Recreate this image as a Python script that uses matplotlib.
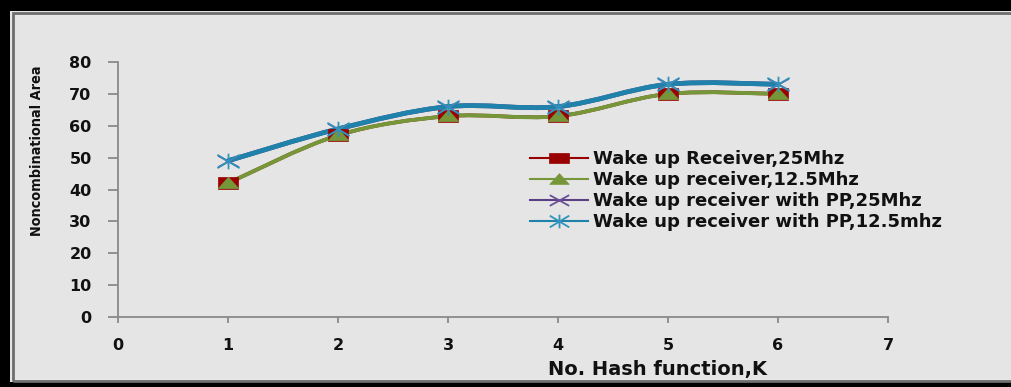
import matplotlib
matplotlib.use("Agg")
import matplotlib.pyplot as plt
from matplotlib import font_manager
from matplotlib.path import Path
from matplotlib.patches import PathPatch, Rectangle
from matplotlib.lines import Line2D

# Number of hash functions
k_values = [1, 2, 3, 4, 5, 6]

# Noncombinational area for each configuration
wur_25 = [42, 57, 63, 63, 70, 70]
wur_12_5 = [42, 57, 63, 63, 70, 70]
wur_pp_25 = [49, 59, 66, 66, 73, 73]
wur_pp_12_5 = [49, 59, 66, 66, 73, 73]

labels = [
    "Wake up Receiver,25Mhz",
    "Wake up receiver,12.5Mhz",
    "Wake up receiver with PP,25Mhz",
    "Wake up receiver with PP,12.5mhz",
]

x_ticks = [0, 1, 2, 3, 4, 5, 6, 7]
y_ticks = [0, 10, 20, 30, 40, 50, 60, 70, 80]

BG = "#e5e5e5"
AXIS = "#8a8a8a"
TEXT = "#111111"

# wide, flat marker shapes
SQUARE = Path([(-1, -0.55), (1, -0.55), (1, 0.55), (-1, 0.55), (-1, -0.55)],
              [Path.MOVETO, Path.LINETO, Path.LINETO, Path.LINETO, Path.CLOSEPOLY])
TRIANGLE = Path([(-1, -0.5), (1, -0.5), (0, 0.6), (-1, -0.5)],
                [Path.MOVETO, Path.LINETO, Path.LINETO, Path.CLOSEPOLY])
CROSS = Path([(-1, -0.55), (1, 0.55), (-1, 0.55), (1, -0.55)],
             [Path.MOVETO, Path.LINETO, Path.MOVETO, Path.LINETO])
ASTERISK = Path([(-1, -0.6), (1, 0.6), (-1, 0.6), (1, -0.6), (0, -0.7), (0, 0.7)],
                [Path.MOVETO, Path.LINETO, Path.MOVETO, Path.LINETO,
                 Path.MOVETO, Path.LINETO])


def smooth_path(xs, ys):
    """Catmull-Rom style Bezier through the points (smoothed line)."""
    pts = list(zip(xs, ys))
    n = len(pts)
    verts = [pts[0]]
    codes = [Path.MOVETO]
    for i in range(n - 1):
        p0 = pts[i - 1] if i > 0 else pts[i]
        p1 = pts[i]
        p2 = pts[i + 1]
        p3 = pts[i + 2] if i + 2 < n else pts[i + 1]
        c1 = (p1[0] + (p2[0] - p0[0]) / 6, p1[1] + (p2[1] - p0[1]) / 6)
        c2 = (p2[0] - (p3[0] - p1[0]) / 6, p2[1] - (p3[1] - p1[1]) / 6)
        verts += [c1, c2, p2]
        codes += [Path.CURVE4] * 3
    return Path(verts, codes)


# narrow bold face for the vertical axis title
names = {f.name for f in font_manager.fontManager.ttflist}
if "Liberation Sans Narrow" in names:
    ylab_font = dict(family="Liberation Sans Narrow", fontsize=13)
else:
    ylab_font = dict(family="DejaVu Sans", stretch="condensed", fontsize=10.4)

fig = plt.figure(figsize=(10.11, 3.87), dpi=100, facecolor=BG)

# frame
W, H = 1011, 387
for (x, y, w, h) in [(0, H - 11, W, 11), (0, 0, 10, H), (0, 0, W, 5)]:
    fig.patches.append(Rectangle((x / W, y / H), w / W, h / H, transform=fig.transFigure,
                                 facecolor="black", edgecolor="none", zorder=0))
fig.patches.append(Rectangle((13 / W, 6 / H), 1.0, (381 - 13) / H,
                             transform=fig.transFigure, fill=False,
                             edgecolor="#6e6e6e", linewidth=2, zorder=1))

ax = fig.add_axes([118 / W, 1 - 317 / H, 770 / W, 255 / H])
ax.set_facecolor(BG)

series = [
    (wur_25, "#990000", SQUARE, 15, 2.6, True),
    (wur_12_5, "#76963a", TRIANGLE, 15, 2.8, True),
    (wur_pp_25, "#5b3f86", CROSS, 15, 3.4, False),
    (wur_pp_12_5, "#1f82aa", ASTERISK, 16, 3.4, False),
]
marker_colors = ["#990000", "#76963a", "#6a4f96", "#2f93bb"]
legend_sizes = [14, 14, 14, 14]

handles = []
for (ys, color, marker, ms, lw, filled), mcolor, lms, label in zip(
        series, marker_colors, legend_sizes, labels):
    ax.add_patch(PathPatch(smooth_path(k_values, ys), fill=False,
                           edgecolor=color, linewidth=lw, capstyle="round",
                           joinstyle="round", zorder=3))
    ax.plot(k_values, ys, linestyle="none", marker=marker, markersize=ms,
            markeredgewidth=1.3 if not filled else 0.5,
            markerfacecolor=mcolor if filled else "none",
            markeredgecolor=mcolor, zorder=4)
    handles.append(Line2D([0], [0], color=color, linewidth=1.5, marker=marker,
                          markersize=lms, markeredgewidth=1.3 if not filled else 0.5,
                          markerfacecolor=mcolor if filled else "none",
                          markeredgecolor=mcolor, label=label))

ax.set_xlim(0, 7)
ax.set_ylim(0, 80)
ax.set_xticks(x_ticks)
ax.set_yticks(y_ticks)

for s in ("top", "right"):
    ax.spines[s].set_visible(False)
for s in ("left", "bottom"):
    ax.spines[s].set_color(AXIS)
    ax.spines[s].set_linewidth(1.3)

ax.tick_params(axis="y", direction="out", length=7, width=1.3, color=AXIS,
               pad=12, labelsize=11.5, labelcolor=TEXT)
ax.tick_params(axis="x", direction="out", length=4, width=1.3, color=AXIS,
               pad=11, labelsize=11.5, labelcolor=TEXT)
for t in ax.get_xticklabels() + ax.get_yticklabels():
    t.set_fontweight("bold")
    t.set_family("DejaVu Sans")

leg = ax.legend(handles=handles, loc="upper left",
                bbox_to_anchor=((530 - 118) / 770, (317 - 150) / 255),
                frameon=False,
                prop={"family": "DejaVu Sans", "weight": "bold", "size": 13},
                handlelength=3.2, handletextpad=0.3, labelspacing=0.17,
                borderaxespad=0, borderpad=0)
for t in leg.get_texts():
    t.set_color(TEXT)

fig.text(658 / W, 1 - 369 / H, "No. Hash function,K", ha="center", va="center",
         fontsize=14, fontweight="bold", family="DejaVu Sans", color=TEXT)
fig.text(37 / W, 1 - 151 / H, "Noncombinational Area", ha="center", va="center",
         rotation=90, fontweight="bold", color=TEXT, **ylab_font)

fig.savefig("out.png", dpi=100, facecolor=BG)
